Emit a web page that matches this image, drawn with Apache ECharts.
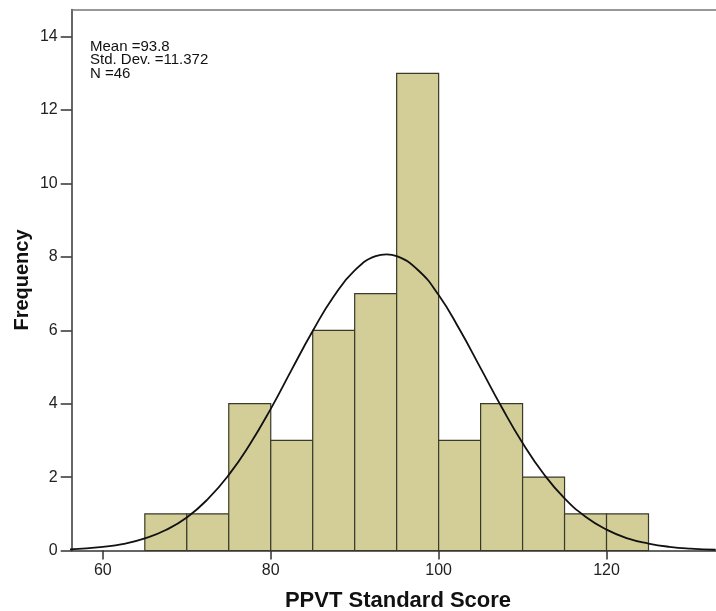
<!DOCTYPE html>
<html>
<head>
<meta charset="utf-8">
<title>PPVT Standard Score</title>
<script src="https://cdn.jsdelivr.net/npm/echarts/dist/echarts.min.js"></script>
<style>
  html, body { margin: 0; padding: 0; background: #fff; }
  #chart { width: 716px; height: 611px; }
</style>
</head>
<body>
<div id="chart"></div>
<script>
// histogram bins (lower edge) and frequencies
const binLow = [65, 70, 75, 80, 85, 90, 95, 100, 105, 110, 115, 120]
const binWidth = 5
const counts = [1, 1, 4, 3, 6, 7, 13, 3, 4, 2, 1, 1]

// fitted normal curve
const curveX = [56, 60, 62.5, 65, 67.5, 70, 72.5, 75, 77.5, 80, 82.5, 85, 87.5, 90, 92.5, 93.8,
  95, 97.5, 100, 102.5, 105, 107.5, 110, 112.5, 115, 117.5, 120, 122.5, 125, 127.5, 130, 133]
const curveY = [0.03, 0.1, 0.18, 0.33, 0.56, 0.9, 1.4, 2.06, 2.89, 3.86, 4.93, 5.98, 6.92, 7.63, 8.02, 8.07,
  8.02, 7.65, 6.96, 6.02, 4.97, 3.91, 2.93, 2.09, 1.42, 0.92, 0.57, 0.33, 0.19, 0.1, 0.05, 0.02]

const statLines = ['Mean =93.8', 'Std. Dev. =11.372', 'N =46']
const xTicks = [60, 80, 100, 120]

const chart = echarts.init(document.getElementById('chart'))

const barData = binLow.map((lo, i) => [lo, lo + binWidth, counts[i]])
const lineData = curveX.map((x, i) => [x, curveY[i]])

const fontFam = 'Arial, "Liberation Sans", sans-serif'

chart.setOption({
  animation: false,
  textStyle: { fontFamily: fontFam },
  grid: {
    left: 71.7,
    right: -3,
    top: 9.5,
    bottom: 60.5
  },
  xAxis: [
    {
      type: 'value',
      min: 56.29,
      max: 133.04,
      splitLine: { show: false },
      axisLine: { show: true, onZero: false, lineStyle: { color: '#333', width: 1.5 } },
      axisTick: {
        show: true,
        length: 9,
        lineStyle: { color: '#333', width: 1.5 },
        customValues: xTicks
      },
      axisLabel: {
        color: '#222',
        fontSize: 16,
        margin: 12,
        customValues: xTicks
      }
    },
    {
      // top frame line only
      type: 'value',
      position: 'top',
      min: 56.29,
      max: 133.04,
      splitLine: { show: false },
      axisLine: { show: true, onZero: false, lineStyle: { color: '#777', width: 1.5 } },
      axisTick: { show: false },
      axisLabel: { show: false }
    }
  ],
  yAxis: {
    type: 'value',
    min: 0,
    max: 14.74,
    interval: 2,
    splitLine: { show: false },
    axisLine: { show: true, lineStyle: { color: '#333', width: 1.5 } },
    axisTick: { show: true, length: 11, lineStyle: { color: '#333', width: 1.5 } },
    axisLabel: {
      color: '#222',
      fontSize: 16,
      margin: 14,
      showMaxLabel: false,
      formatter: (v) => (v % 2 === 0 && v <= 14 ? String(v) : '')
    }
  },
  graphic: [
    {
      type: 'text',
      left: 90,
      top: 39,
      style: {
        text: statLines.join('\n'),
        fill: '#111',
        font: '15px ' + fontFam,
        lineHeight: 13.5
      }
    },
    {
      type: 'text',
      x: 22,
      y: 280,
      rotation: Math.PI / 2,
      style: {
        text: 'Frequency',
        fill: '#111',
        font: 'bold 20px ' + fontFam,
        align: 'center',
        verticalAlign: 'middle'
      }
    },
    {
      type: 'text',
      x: 398,
      y: 601,
      style: {
        text: 'PPVT Standard Score',
        fill: '#111',
        font: 'bold 22px ' + fontFam,
        align: 'center',
        verticalAlign: 'middle'
      }
    }
  ],
  series: [
    {
      type: 'custom',
      data: barData,
      encode: { x: [0, 1], y: 2 },
      renderItem(params, api) {
        const p0 = api.coord([api.value(0), 0])
        const p1 = api.coord([api.value(1), api.value(2)])
        return {
          type: 'rect',
          shape: { x: p0[0], y: p1[1], width: p1[0] - p0[0], height: p0[1] - p1[1] },
          style: { fill: '#d3ce97', stroke: '#3a3a2c', lineWidth: 1.2 }
        }
      },
      z: 2
    },
    {
      type: 'line',
      data: lineData,
      smooth: true,
      showSymbol: false,
      lineStyle: { color: '#111', width: 1.8 },
      z: 3
    }
  ]
})
</script>
</body>
</html>
